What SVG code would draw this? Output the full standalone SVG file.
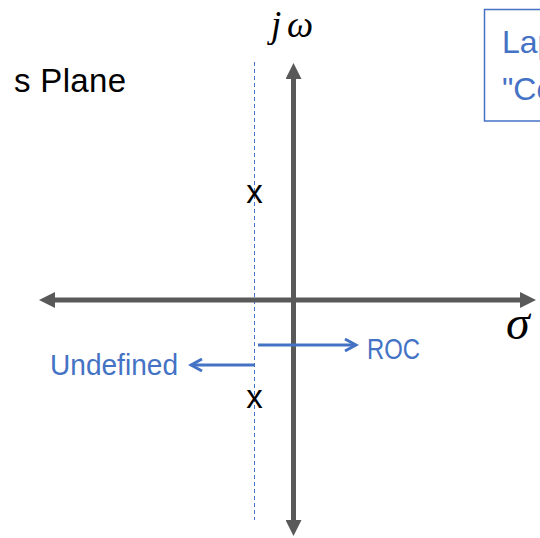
<svg xmlns="http://www.w3.org/2000/svg" width="540" height="538" viewBox="0 0 540 538">
  <style>
    .sans { font-family: "Liberation Sans", Arial, sans-serif; }
    .math { font-family: "Liberation Serif", "Times New Roman", serif; font-style: italic; fill: #000; }
    .blue { fill: #4472C4; }
    .axis { stroke: #595959; stroke-width: 5; fill: none; }
    .roc { stroke: #4472C4; stroke-width: 3; fill: none; }
  </style>
  <defs>
    <marker id="head" markerUnits="userSpaceOnUse" markerWidth="16" markerHeight="16" refX="1" refY="8" orient="auto-start-reverse" viewBox="0 0 16 16">
      <path d="M0,0 L16,8 L0,16 z" fill="#595959"/>
    </marker>
    <marker id="open" markerUnits="userSpaceOnUse" markerWidth="16" markerHeight="16" refX="13" refY="8" orient="auto" viewBox="0 0 16 16">
      <path d="M2,2 L13,8 L2,14" fill="none" stroke="#4472C4" stroke-width="3" stroke-linejoin="miter"/>
    </marker>
  </defs>
  <rect width="540" height="538" fill="#fff"/>

  <g id="connectors">
    <line id="dashed-boundary" x1="254.5" y1="62" x2="254.5" y2="520" stroke="#4472C4" stroke-width="1" stroke-dasharray="4 3"/>
    <line id="sigma-axis" class="axis" x1="54" y1="300" x2="521" y2="300" marker-start="url(#head)" marker-end="url(#head)"/>
    <line id="jw-axis" class="axis" x1="293.5" y1="78" x2="293.5" y2="521" marker-start="url(#head)" marker-end="url(#head)"/>
    <line id="roc-arrow" class="roc" x1="258" y1="345" x2="356" y2="345" marker-end="url(#open)"/>
    <line id="undef-arrow" class="roc" x1="254" y1="365" x2="191" y2="365" marker-end="url(#open)"/>
  </g>

  <g id="title">
    <text class="sans" x="14" y="92" font-size="33" textLength="112" fill="#000">s Plane</text>
  </g>

  <g id="jw-label">
    <text class="math" x="271" y="37" font-size="37">j</text>
    <text class="math" x="287" y="37" font-size="37">ω</text>
  </g>

  <g id="sigma-label">
    <text class="math" x="506" y="339" font-size="48">σ</text>
  </g>

  <g id="pole-upper">
    <text class="sans" x="254.5" y="203" font-size="33" text-anchor="middle" fill="#000">x</text>
  </g>
  <g id="pole-lower">
    <text class="sans" x="254.5" y="408" font-size="33" text-anchor="middle" fill="#000">x</text>
  </g>

  <g id="roc-label">
    <text class="sans blue" x="367" y="359" font-size="30" textLength="53" lengthAdjust="spacingAndGlyphs">ROC</text>
  </g>
  <g id="undefined-label">
    <text class="sans blue" x="50" y="375" font-size="30" textLength="128" lengthAdjust="spacingAndGlyphs">Undefined</text>
  </g>

  <g id="note-box">
    <rect x="484.5" y="9.5" width="70" height="111.5" fill="none" stroke="#4472C4" stroke-width="1.5"/>
    <text class="sans blue" x="502" y="53" font-size="32">Lap</text>
    <text class="sans blue" x="502" y="100" font-size="32">"Co</text>
  </g>
</svg>
